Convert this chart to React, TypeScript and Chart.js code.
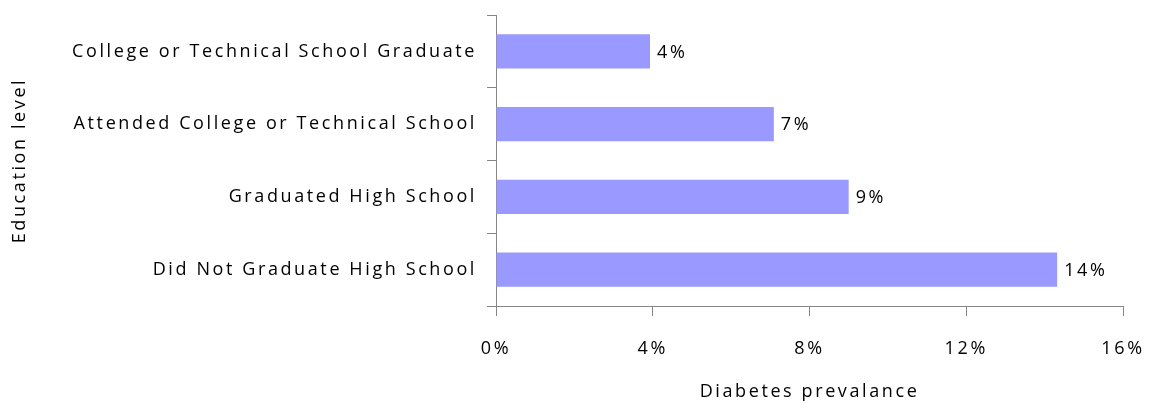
import React, { useEffect, useRef } from "react";
import { Chart, registerables } from "chart.js";

Chart.register(...registerables);

const categories = [
  "College or Technical School Graduate",
  "Attended College or Technical School",
  "Graduated High School",
  "Did Not Graduate High School",
];
const prevalence = [3.93, 7.09, 9.0, 14.32];
const xTickValues = [0, 4, 8, 12, 16];
const xTitle = "Diabetes prevalance";
const yTitle = "Education level";

const FONT_FAMILY = "'Open Sans', sans-serif";
const FONT_SIZE = 18;
const LETTER_SPACING = "2.6px";
const AXIS_COLOR = "#868686";
const BAR_COLOR = "#9999FF";

const spacing = {
  id: "spacing",
  beforeLayout(chart: any) {
    chart.ctx.letterSpacing = LETTER_SPACING;
  },
  beforeDraw(chart: any) {
    chart.ctx.letterSpacing = LETTER_SPACING;
  },
};

const valueLabels = {
  id: "valueLabels",
  afterDatasetsDraw(chart: any) {
    const ctx = chart.ctx;
    const meta = chart.getDatasetMeta(0);
    ctx.save();
    ctx.letterSpacing = LETTER_SPACING;
    ctx.font = `${FONT_SIZE}px ${FONT_FAMILY}`;
    ctx.fillStyle = "#000";
    ctx.textAlign = "left";
    ctx.textBaseline = "middle";
    meta.data.forEach((el: any, i: number) => {
      const v = chart.data.datasets[0].data[i] as number;
      ctx.fillText(`${Math.round(v)}%`, el.x + 7, el.y + 1);
    });
    ctx.restore();
  },
};

export default function App() {
  const ref = useRef<HTMLCanvasElement>(null);
  useEffect(() => {
    if (!ref.current) return;
    const font = { family: FONT_FAMILY, size: FONT_SIZE };
    const chart = new Chart(ref.current, {
      type: "bar",
      data: {
        labels: categories,
        datasets: [
          {
            data: prevalence,
            backgroundColor: BAR_COLOR,
            borderWidth: 0,
            barPercentage: 0.47,
            categoryPercentage: 1,
          },
        ],
      },
      options: {
        indexAxis: "y",
        responsive: false,
        animation: false,
        layout: {
          autoPadding: false,
          padding: { top: 15, right: 26, left: 0, bottom: 0 },
        },
        plugins: {
          legend: { display: false },
          tooltip: { enabled: false },
        },
        scales: {
          y: {
            type: "category",
            grid: {
              offset: true,
              drawOnChartArea: false,
              drawTicks: true,
              tickLength: 9,
              color: AXIS_COLOR,
            },
            border: { color: AXIS_COLOR, width: 1 },
            ticks: { color: "#000", font, padding: 10 },
            title: {
              display: true,
              text: yTitle,
              color: "#000",
              font,
              padding: { top: 9, bottom: 0 },
            },
            afterFit: (s: any) => {
              s.width = 496;
              s.paddingTop = 0;
              s.paddingBottom = 0;
            },
          },
          x: {
            type: "linear",
            min: 0,
            max: 16,
            afterBuildTicks: (s: any) => {
              s.ticks = xTickValues.map((v) => ({ value: v }));
            },
            grid: {
              drawOnChartArea: false,
              drawTicks: true,
              tickLength: 10,
              color: AXIS_COLOR,
            },
            border: { color: AXIS_COLOR, width: 1 },
            ticks: {
              color: "#000",
              font,
              padding: 22,
              maxRotation: 0,
              callback: (v: any) => `${v}%`,
            },
            title: {
              display: true,
              text: xTitle,
              color: "#000",
              font,
              padding: { top: 1, bottom: 0 },
            },
            afterFit: (s: any) => {
              s.height = 97;
              s.paddingLeft = 0;
              s.paddingRight = 0;
            },
          },
        },
      },
      plugins: [spacing, valueLabels],
    });
    return () => chart.destroy();
  }, []);
  return (
    <canvas
      ref={ref}
      width={1149}
      height={403}
      style={{ position: "fixed", left: 0, top: 0, display: "block" }}
    />
  );
}
